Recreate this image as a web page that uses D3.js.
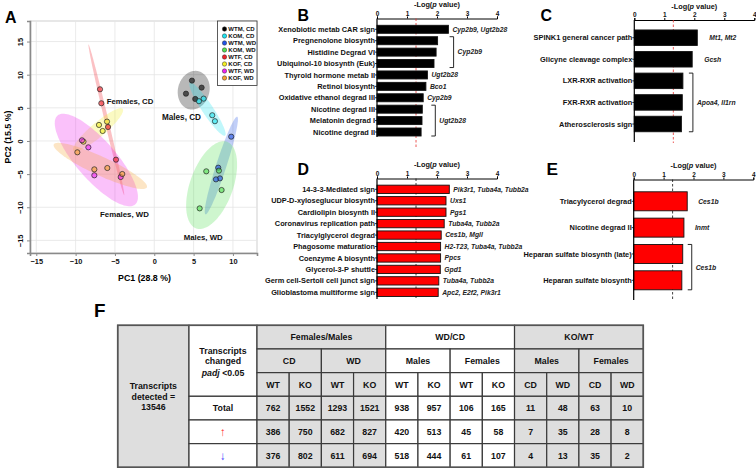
<!DOCTYPE html>
<html><head><meta charset="utf-8">
<script src="https://cdn.jsdelivr.net/npm/d3@7"></script>
<style>
body{margin:0;background:#fff;}
svg{display:block;font-family:"Liberation Sans",Arial,Helvetica,sans-serif;}
</style></head><body>
<svg id="c" width="756" height="468"></svg>
<script>
// ================= DATA =================
// Panel A - PCA
const pcaGroups = ["WTM, CD","KOM, CD","WTM, WD","KOM, WD","WTF, CD","KOF, CD","WTF, WD","KOF, WD"];
const pcaPC1 = [
  [4.79, 6.02, 4.03, 5.21],
  [5.68, 6.28, 7.37, 7.71],
  [9.78, 8.13, 8.35, 7.84],
  [6.61, 8.22, 8.56, 5.77],
  [-6.90, -6.73, -5.88, -4.87],
  [-7.03, -6.01, -6.56, -9.00],
  [-9.19, -8.38, -7.62, -4.27],
  [-9.78, -7.62, -5.97, -4.07]
];
const pcaPC2 = [
  [9.11, 8.05, 7.14, 6.34],
  [6.00, 6.39, 3.88, 2.98],
  [0.65, -4.03, -5.64, -5.79],
  [-4.58, -4.48, -7.40, -10.17],
  [7.80, 5.69, 2.11, -2.82],
  [2.42, 2.92, 1.51, -0.10],
  [0.10, -0.96, -5.18, -5.44],
  [-1.71, -4.28, -4.08, -4.98]
];
const pcaTicks = [-15, -10, -5, 0, 5, 10, 15];
const pcaAxisTitles = ["PC1 (28.8 %)", "PC2 (15.5 %)"];
const clusterLabels = ["Females, CD", "Males, CD", "Females, WD", "Males, WD"];

// Panel B
const bTerms = ["Xenobiotic metab CAR sign","Pregnenolone biosynth","Histidine Degrad VI","Ubiquinol-10 biosynth (Euk)","Thyroid hormone metab II","Retinol biosynth","Oxidative ethanol degrad III","Nicotine degrad III","Melatonin degrad I","Nicotine degrad II"];
const bValues = [2.38, 2.02, 1.97, 1.90, 1.68, 1.63, 1.54, 1.51, 1.50, 1.47];
const bGenes = ["Cyp2b9, Ugt2b28", null, null, null, "Ugt2b28", "Bco1", "Cyp2b9", null, null, null];
const bBrackets = [[1, 3, "Cyp2b9"], [7, 9, "Ugt2b28"]];

// Panel C
const cTerms = ["SPINK1 general cancer path","Glicyne cleavage complex","LXR-RXR activation","FXR-RXR activation","Atherosclerosis sign"];
const cValues = [2.10, 1.93, 1.62, 1.60, 1.57];
const cGenes = ["Mt1, Mt2", "Gcsh", null, null, null];
const cBrackets = [[2, 4, "Apoa4, Il1rn"]];

// Panel D
const dTerms = ["14-3-3-Mediated sign","UDP-D-xyloseglucur biosynth","Cardiolipin biosynth II","Coronavirus replication path","Triacylglycerol degrad","Phagosome maturation","Coenzyme A biosynth","Glycerol-3-P shuttle","Germ cell-Sertoli cell junct sign","Glioblastoma multiforme sign"];
const dValues = [2.41, 2.30, 2.30, 2.24, 2.14, 2.12, 2.12, 2.11, 2.06, 2.04];
const dGenes = ["Pik3r1, Tuba4a, Tubb2a","Uxs1","Pgs1","Tuba4a, Tubb2a","Ces1b, Mgll","H2-T23, Tuba4a, Tubb2a","Ppcs","Gpd1","Tuba4a, Tubb2a","Apc2, E2f2, Pik3r1"];
const dBrackets = [];

// Panel E
const eTerms = ["Triacylycerol degrad","Nicotine degrad II","Heparan sulfate biosynth (late)","Heparan sulfate biosynth"];
const eValues = [1.79, 1.68, 1.64, 1.61];
const eGenes = ["Ces1b", "Inmt", null, null];
const eBrackets = [[2, 3, "Ces1b"]];

const logTicks = [0, 1, 2, 3, 4];
const pThreshold = 0.05;

// Panel F - table
const fGroups = ["Females/Males", "WD/CD", "KO/WT"];
const fSubGroups = ["CD", "WD", "Males", "Females", "Males", "Females"];
const fColumns = ["WT","KO","WT","KO","WT","KO","WT","KO","CD","WD","CD","WD"];
const fTotal = [762, 1552, 1293, 1521, 938, 957, 106, 165, 11, 48, 63, 10];
const fUp    = [386, 750, 682, 827, 420, 513, 45, 58, 7, 35, 28, 8];
const fDown  = [376, 802, 611, 694, 518, 444, 61, 107, 4, 13, 35, 2];
const fDetected = 13546;

// ================= STYLE =================
const pcaColors = ["#000000","#1ee3ef","#2152e6","#4fe04f","#f0222a","#f2ee24","#ee22ee","#f5a030"];
const svg = d3.select("#c");
const BOLD = "bold";
const FAM = "Liberation Sans, Arial, sans-serif";

function measure(text, size, style) {
  const t = svg.append("text").attr("font-size", size).attr("font-weight", BOLD)
    .attr("font-family", FAM).attr("font-style", style || "normal").text(text);
  const w = t.node().getComputedTextLength();
  t.remove();
  return w;
}
// font size that makes `text` render `target` px wide
function fit(text, target, style) {
  const w = measure(text, 40, style);
  return w > 0 ? 40 * target / w : 8;
}

function panelLetter(t, x, y) {
  svg.append("text").attr("x", x).attr("y", y).text(t)
    .attr("font-size", fit(t, 11.5)).attr("font-weight", BOLD).attr("fill", "#000");
}

// ================= PANEL A =================
(function () {
  const L = 30, R = 257, T = 21, B = 253;
  const x = d3.scaleLinear().domain([-15.8, 13.06]).range([L, R]);
  const y = d3.scaleLinear().domain([-16.9, 18.1]).range([B, T]);
  const g = svg.append("g");
  const tickSize = fit("-15", 10.7);
  g.append("rect").attr("x", L).attr("y", T).attr("width", R - L).attr("height", B - T)
    .attr("fill", "#fff").attr("stroke", "#cfcfcf").attr("stroke-width", 1);
  pcaTicks.filter(v => x(v) > L && x(v) < R).forEach(v => {
    g.append("line").attr("x1", x(v)).attr("x2", x(v)).attr("y1", T).attr("y2", B)
      .attr("stroke", "#e4e4e4").attr("stroke-width", 0.8);
  });
  pcaTicks.filter(v => y(v) > T && y(v) < B).forEach(v => {
    g.append("line").attr("y1", y(v)).attr("y2", y(v)).attr("x1", L).attr("x2", R)
      .attr("stroke", "#e4e4e4").attr("stroke-width", 0.8);
  });
  const xa = g.append("g").attr("transform", `translate(0,${B})`)
    .call(d3.axisBottom(x).tickValues(pcaTicks.filter(v => x(v) >= L && x(v) <= R)).tickSize(3).tickPadding(3));
  const ya = g.append("g").attr("transform", `translate(${L},0)`)
    .call(d3.axisLeft(y).tickValues(pcaTicks.filter(v => y(v) >= T && y(v) <= B)).tickSize(3).tickPadding(3));
  [xa, ya].forEach(a => {
    a.select(".domain").attr("stroke", "#8a8a8a").attr("stroke-width", 1.6);
    a.selectAll(".tick line").attr("stroke", "#8a8a8a").attr("stroke-width", 1);
    a.selectAll("text").attr("font-size", tickSize).attr("font-weight", BOLD).attr("fill", "#111")
      .attr("font-family", FAM);
  });
  ya.selectAll(".tick text").attr("text-anchor", "middle").attr("dy", 0)
    .attr("transform", `translate(-7,0) rotate(-90)`)
    .attr("x", 0).attr("y", 0);
  g.append("text").attr("x", 144.5).attr("y", 281).attr("text-anchor", "middle")
    .attr("font-size", fit(pcaAxisTitles[0], 53)).attr("font-weight", BOLD).text(pcaAxisTitles[0]);
  g.append("text").attr("transform", `translate(11,${(T + B) / 2}) rotate(-90)`).attr("text-anchor", "middle")
    .attr("font-size", fit(pcaAxisTitles[0], 53)).attr("font-weight", BOLD).text(pcaAxisTitles[1]);

  // ellipses (normal, 95% chi-square) computed from each group's points
  const r = Math.sqrt(5.991);
  const line = d3.line().x(d => x(d[0])).y(d => y(d[1])).curve(d3.curveLinearClosed);
  const eg = g.append("g");
  pcaGroups.forEach((grp, i) => {
    const xs = pcaPC1[i], ys = pcaPC2[i], n = xs.length;
    const mx = d3.mean(xs), my = d3.mean(ys);
    let sxx = 0, syy = 0, sxy = 0;
    for (let k = 0; k < n; k++) { sxx += (xs[k] - mx) ** 2; syy += (ys[k] - my) ** 2; sxy += (xs[k] - mx) * (ys[k] - my); }
    sxx /= n - 1; syy /= n - 1; sxy /= n - 1;
    const tr = sxx + syy, det = sxx * syy - sxy * sxy;
    const disc = Math.sqrt(Math.max(0, tr * tr / 4 - det));
    const l1 = tr / 2 + disc, l2 = Math.max(0, tr / 2 - disc);
    let v1 = Math.abs(sxy) > 1e-12 ? [sxy, l1 - sxx] : (sxx >= syy ? [1, 0] : [0, 1]);
    const nv = Math.hypot(v1[0], v1[1]); v1 = [v1[0] / nv, v1[1] / nv];
    const v2 = [-v1[1], v1[0]];
    const pts = d3.range(0, 120).map(k => {
      const t = k / 120 * 2 * Math.PI;
      const a = r * Math.sqrt(l1) * Math.cos(t), b = r * Math.sqrt(l2) * Math.sin(t);
      return [mx + a * v1[0] + b * v2[0], my + a * v1[1] + b * v2[1]];
    });
    eg.append("path").attr("d", line(pts)).attr("fill", pcaColors[i]).attr("fill-opacity", 0.28).attr("stroke", "none");
  });
  const pg = g.append("g");
  pcaGroups.forEach((grp, i) => {
    pcaPC1[i].forEach((v, k) => {
      pg.append("circle").attr("cx", x(v)).attr("cy", y(pcaPC2[i][k])).attr("r", 2.6)
        .attr("fill", pcaColors[i]).attr("fill-opacity", 0.6)
        .attr("stroke", "#222").attr("stroke-width", 0.7);
    });
  });
  const labPos = [[-6.05, 5.51], [0.98, 3.09], [-6.9, -11.46], [3.74, -14.93]];
  const labW = [46.7, 39, 49, 39];
  clusterLabels.forEach((t, i) => {
    g.append("text").attr("x", x(labPos[i][0])).attr("y", y(labPos[i][1]))
      .attr("font-size", fit(t, labW[i])).attr("font-weight", BOLD).attr("fill", "#111").text(t);
  });
  const lg = g.append("g");
  const legSize = fit("WTM, CD", 26.5);
  lg.append("rect").attr("x", 217.5).attr("y", 21).attr("width", R - 217.5).attr("height", 64.5)
    .attr("fill", "#fff").attr("stroke", "#333").attr("stroke-width", 0.8);
  pcaGroups.forEach((grp, i) => {
    const yy = 29 + i * 7;
    lg.append("circle").attr("cx", 224.5).attr("cy", yy).attr("r", 2.2)
      .attr("fill", pcaColors[i]).attr("stroke", "#333").attr("stroke-width", 0.5);
    lg.append("text").attr("x", 228.3).attr("y", yy + 2.1).attr("font-size", legSize).attr("font-weight", BOLD)
      .attr("fill", "#111").text(grp);
  });
})();
panelLetter("A", 5, 22.5);

// ================= BAR PANELS =================
function barPanel(cfg) {
  const g = svg.append("g");
  const x = d3.scaleLinear().domain([0, 4]).range([cfg.x0, cfg.x0 + cfg.unit * 4]);
  const y = d3.scalePoint().domain(cfg.terms).range([cfg.yFirst, cfg.yLast]);
  const labelSize = fit(cfg.fitLabel[0], cfg.fitLabel[1]);
  const geneSize = fit("Cyp2b9, Ugt2b28", 55, "italic");
  const titleSize = fit("-Log(p value)", 46);
  const tt = g.append("text").attr("x", x(2)).attr("y", cfg.axisY - 11.5).attr("text-anchor", "middle")
    .attr("font-size", titleSize).attr("font-weight", BOLD).attr("fill", "#111");
  tt.append("tspan").text("-Log(");
  tt.append("tspan").attr("font-style", "italic").text("p");
  tt.append("tspan").text(" value)");
  const ax = g.append("g").attr("transform", `translate(0,${cfg.axisY})`)
    .call(d3.axisTop(x).tickValues(logTicks).tickSize(2).tickPadding(1).tickFormat(d3.format("d")));
  ax.select(".domain").attr("stroke", "#000").attr("stroke-width", 1);
  ax.selectAll(".tick line").attr("stroke", "#000");
  ax.selectAll("text").attr("font-size", geneSize * 0.95).attr("font-weight", BOLD).attr("fill", "#111")
    .attr("font-family", FAM);
  g.append("line").attr("x1", x(-Math.log10(pThreshold))).attr("x2", x(-Math.log10(pThreshold)))
    .attr("y1", cfg.axisY).attr("y2", cfg.dashEnd)
    .attr("stroke", cfg.dashColor).attr("stroke-width", 0.8).attr("stroke-dasharray", "2.5,2");
  g.selectAll("rect.bar").data(cfg.values).join("rect").attr("class", "bar")
    .attr("x", x(0)).attr("y", (d, i) => y(cfg.terms[i]) - cfg.barH / 2)
    .attr("width", d => x(d) - x(0)).attr("height", cfg.barH)
    .attr("fill", cfg.fill).attr("stroke", "#111").attr("stroke-width", 0.9);
  g.append("line").attr("x1", x(0)).attr("x2", x(0)).attr("y1", cfg.axisY).attr("y2", cfg.axisEnd)
    .attr("stroke", "#000").attr("stroke-width", 1.2);
  cfg.terms.forEach(t => {
    g.append("line").attr("x1", x(0) - 2).attr("x2", x(0)).attr("y1", y(t)).attr("y2", y(t))
      .attr("stroke", "#000").attr("stroke-width", 0.8);
  });
  g.selectAll("text.cat").data(cfg.terms).join("text").attr("class", "cat")
    .attr("x", x(0) - 2).attr("y", d => y(d)).attr("dy", "0.35em").attr("text-anchor", "end")
    .attr("font-size", labelSize).attr("font-weight", BOLD).attr("fill", "#111").text(d => d);
  cfg.genes.forEach((gn, i) => {
    if (!gn) return;
    g.append("text").attr("x", x(cfg.values[i]) + cfg.geneGap).attr("y", y(cfg.terms[i])).attr("dy", "0.35em")
      .attr("font-size", geneSize).attr("font-style", "italic").attr("font-weight", BOLD).attr("fill", "#222").text(gn);
  });
  cfg.brackets.forEach(([a, b, lab], k) => {
    const mx = d3.max(cfg.values.slice(a, b + 1));
    const bx = x(mx) + cfg.bracketGap[k];
    const y1 = y(cfg.terms[a]) - cfg.barH / 2, y2 = y(cfg.terms[b]) + cfg.barH / 2;
    g.append("path").attr("d", `M${bx - 4},${y1}H${bx}V${y2}H${bx - 4}`)
      .attr("fill", "none").attr("stroke", "#111").attr("stroke-width", 0.9);
    g.append("text").attr("x", bx + 4).attr("y", (y1 + y2) / 2).attr("dy", "0.35em")
      .attr("font-size", geneSize).attr("font-style", "italic").attr("font-weight", BOLD).attr("fill", "#222").text(lab);
  });
}

barPanel({ terms: bTerms, values: bValues, genes: bGenes, brackets: bBrackets, x0: 377, unit: 30,
  axisY: 18.5, yFirst: 29.3, yLast: 132, barH: 8, axisEnd: 137, dashEnd: 147, dashColor: "#e8312f",
  fill: "#000", fitLabel: ["Ubiquinol-10 biosynth (Euk)", 98], geneGap: 4, bracketGap: [16, 13] });
barPanel({ terms: cTerms, values: cValues, genes: cGenes, brackets: cBrackets, x0: 634.3, unit: 30,
  axisY: 20, yFirst: 37.7, yLast: 124, barH: 15.5, axisEnd: 142, dashEnd: 143, dashColor: "#e8312f",
  fill: "#000", fitLabel: ["SPINK1 general cancer path", 99], geneGap: 12, bracketGap: [10] });
barPanel({ terms: dTerms, values: dValues, genes: dGenes, brackets: dBrackets, x0: 377, unit: 30,
  axisY: 178.5, yFirst: 189.3, yLast: 292.3, barH: 8.3, axisEnd: 299, dashEnd: 300, dashColor: "#111",
  fill: "#ff0000", fitLabel: ["Glioblastoma multiforme sign", 104], geneGap: 4, bracketGap: [] });
barPanel({ terms: eTerms, values: eValues, genes: eGenes, brackets: eBrackets, x0: 633.7, unit: 29.9,
  axisY: 179.5, yFirst: 201.3, yLast: 280.3, barH: 19, axisEnd: 300, dashEnd: 301, dashColor: "#111",
  fill: "#ff0000", fitLabel: ["Heparan sulfate biosynth (late)", 108.5], geneGap: 11, bracketGap: [9] });

panelLetter("B", 297.5, 21);
panelLetter("C", 540.5, 21);
panelLetter("D", 297.5, 175);
panelLetter("E", 546.5, 175);

// ================= PANEL F =================
(function () {
  const g = svg.append("g");
  const X0 = 117.7, X1 = 189, X2 = 257, X3 = 643.3, Y0 = 325.3, Y1 = 467.3;
  const col = d3.scaleBand().domain(d3.range(fColumns.length)).range([X2, X3]);
  const row = d3.scaleBand().domain(d3.range(6)).range([Y0, Y1]);
  const cw = col.bandwidth(), rh = row.bandwidth();
  const grey = "#dedede", lineC = "#3a3a3a";
  const blockFill = [grey, "#ffffff", grey];
  const fs = fit("Females/Males", 62);
  const cell = (x, y, w, h, fill) => g.append("rect").attr("x", x).attr("y", y).attr("width", w).attr("height", h)
    .attr("fill", fill).attr("stroke", lineC).attr("stroke-width", 1.2);
  const txt = (t, x, y, opts = {}) => {
    const e = g.append("text").attr("x", x).attr("y", y).attr("dy", "0.36em").attr("text-anchor", "middle")
      .attr("font-size", opts.size || fs).attr("font-weight", BOLD).attr("fill", opts.color || "#111");
    return e.text(t);
  };
  cell(X0, Y0, X1 - X0, Y1 - Y0, grey);
  txt("Transcripts", (X0 + X1) / 2, 386);
  txt("detected =", (X0 + X1) / 2, 396.7);
  txt(String(fDetected), (X0 + X1) / 2, 407.3);
  cell(X1, Y0, X2 - X1, row(3) - Y0, "#fff");
  txt("Transcripts", (X1 + X2) / 2, 350.7);
  txt("changed", (X1 + X2) / 2, 361.2);
  const pt = g.append("text").attr("x", (X1 + X2) / 2).attr("y", 372.5).attr("dy", "0.36em").attr("text-anchor", "middle")
    .attr("font-size", fs).attr("font-weight", BOLD).attr("fill", "#111");
  pt.append("tspan").attr("font-style", "italic").text("padj");
  pt.append("tspan").text(" <0.05");
  cell(X1, row(3), X2 - X1, rh, "#fff"); txt("Total", (X1 + X2) / 2, row(3) + rh / 2);
  cell(X1, row(4), X2 - X1, rh, "#fff"); txt("\u2191", (X1 + X2) / 2, row(4) + rh / 2, { color: "#ff2a2a", size: fs * 1.35 });
  cell(X1, row(5), X2 - X1, rh, "#fff"); txt("\u2193", (X1 + X2) / 2, row(5) + rh / 2, { color: "#3a3aff", size: fs * 1.35 });
  fGroups.forEach((t, i) => {
    cell(col(i * 4), row(0), cw * 4, rh, blockFill[i]);
    txt(t, col(i * 4) + cw * 2, row(0) + rh / 2);
  });
  fSubGroups.forEach((t, i) => {
    cell(col(i * 2), row(1), cw * 2, rh, blockFill[Math.floor(i / 2)]);
    txt(t, col(i * 2) + cw, row(1) + rh / 2);
  });
  fColumns.forEach((t, i) => {
    cell(col(i), row(2), cw, rh, blockFill[Math.floor(i / 4)]);
    txt(t, col(i) + cw / 2, row(2) + rh / 2);
  });
  [fTotal, fUp, fDown].forEach((arr, r) => {
    arr.forEach((v, i) => {
      cell(col(i), row(3 + r), cw, rh, blockFill[Math.floor(i / 4)]);
      txt(String(v), col(i) + cw / 2, row(3 + r) + rh / 2);
    });
  });
  g.append("rect").attr("x", X0).attr("y", Y0).attr("width", X3 - X0).attr("height", Y1 - Y0)
    .attr("fill", "none").attr("stroke", "#555").attr("stroke-width", 1.6);
})();
panelLetter("F", 94, 317);
</script>
</body></html>
